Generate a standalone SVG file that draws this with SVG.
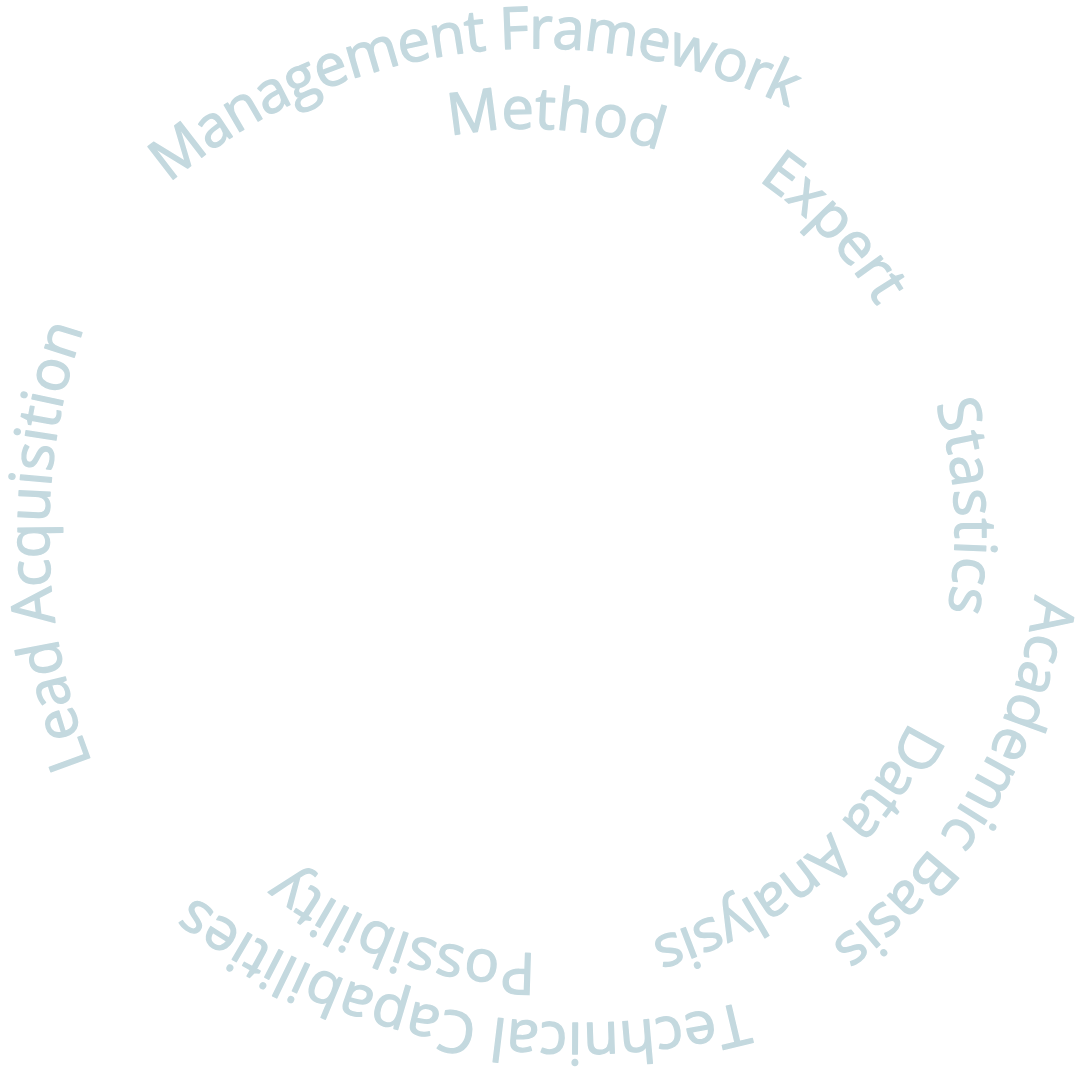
<svg xmlns="http://www.w3.org/2000/svg" xmlns:xlink="http://www.w3.org/1999/xlink" width="1075" height="1083" viewBox="0 0 1075 1083">
<style>
.t{font-family:"Open Sans","Noto Sans",sans-serif;font-size:58px;font-weight:400;fill:#c4d9df;stroke:#c4d9df;stroke-width:1.3px;stroke-linejoin:round;}
</style>
<defs>
<path id="p-mgmt" d="M169.1,183 A570,570 0 0 1 877.4,160.9"/>
<path id="p-lead" d="M92,763 A630,630 0 0 1 133.4,219"/>
<path id="p-acad" d="M1035,595 A514,514 0 0 1 725.8,1004.1"/>
<path id="p-tech" d="M744.2,1001.7 A651,651 0 0 1 122.1,835.7"/>
<path id="p-method" d="M450,136 A404,404 0 0 1 727,181.1"/>
<path id="p-expert" d="M758,180 A418,418 0 0 1 915,386"/>
<path id="p-stat" d="M935.8,403.8 A430,430 0 0 1 914.7,712.7"/>
<path id="p-data" d="M910,721 A420,420 0 0 1 562.3,955"/>
<path id="p-poss" d="M535.9,953 A390,390 0 0 1 231.7,813.7"/>
</defs>
<rect width="1075" height="1083" fill="#ffffff"/>
<g id="management-framework"><text class="t" letter-spacing="-1"><textPath href="#p-mgmt" xlink:href="#p-mgmt">Management Framework</textPath></text></g>
<g id="lead-acquisition"><text class="t"><textPath href="#p-lead" xlink:href="#p-lead">Lead Acquisition</textPath></text></g>
<g id="academic-basis"><text class="t"><textPath href="#p-acad" xlink:href="#p-acad">Academic Basis</textPath></text></g>
<g id="technical-capabilities"><text class="t"><textPath href="#p-tech" xlink:href="#p-tech">Technical Capabilities</textPath></text></g>
<g id="method"><text class="t"><textPath href="#p-method" xlink:href="#p-method">Method</textPath></text></g>
<g id="expert"><text class="t"><textPath href="#p-expert" xlink:href="#p-expert">Expert</textPath></text></g>
<g id="stastics"><text class="t" letter-spacing="1"><textPath href="#p-stat" xlink:href="#p-stat">Stastics</textPath></text></g>
<g id="data-analysis"><text class="t" letter-spacing="-1"><textPath href="#p-data" xlink:href="#p-data">Data Analysis</textPath></text></g>
<g id="possibility"><text class="t"><textPath href="#p-poss" xlink:href="#p-poss">Possibility</textPath></text></g>
</svg>
